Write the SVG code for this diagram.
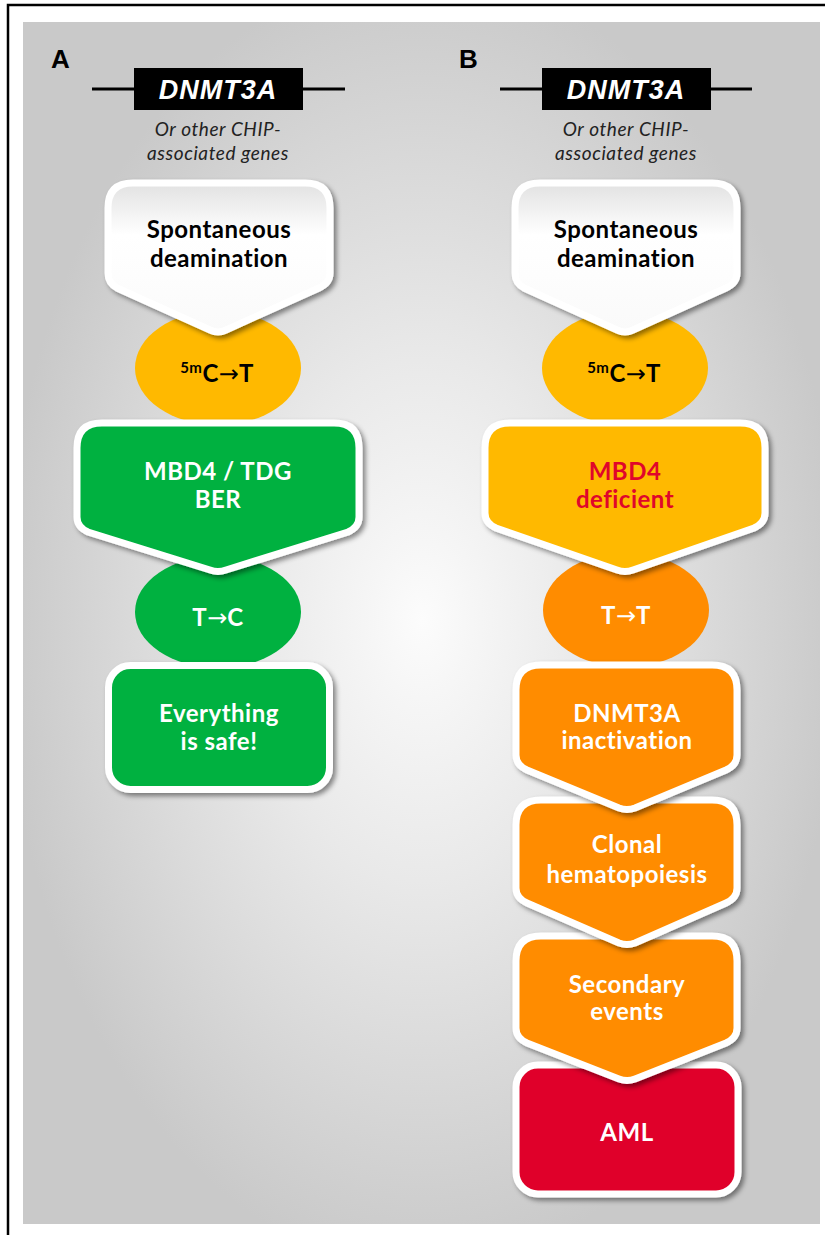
<svg xmlns="http://www.w3.org/2000/svg" width="825" height="1235" viewBox="0 0 825 1235">
<defs>
<radialGradient id="bg" gradientUnits="userSpaceOnUse" cx="422" cy="620" r="420" gradientTransform="translate(422 620) scale(1 1.55) translate(-422 -620)">
<stop offset="0" stop-color="#fcfcfc"/>
<stop offset="0.12" stop-color="#f6f6f6"/>
<stop offset="0.4" stop-color="#e9e9e9"/>
<stop offset="0.7" stop-color="#d9d9d9"/>
<stop offset="1" stop-color="#c9c9c9"/>
</radialGradient>
<linearGradient id="wg" x1="0" y1="0" x2="0" y2="1">
<stop offset="0" stop-color="#e2e2e2"/>
<stop offset="0.35" stop-color="#ffffff"/>
<stop offset="1" stop-color="#fafafa"/>
</linearGradient>
<filter id="sh" x="-10%" y="-10%" width="125%" height="125%">
<feDropShadow dx="3" dy="3" stdDeviation="2.5" flood-color="#000" flood-opacity="0.45"/>
</filter>
</defs>
<style>
.box{stroke:#fff;stroke-width:7;filter:url(#sh);}
.ell{stroke:none;}
.t{font-family:Lato,"Liberation Sans",sans-serif;font-weight:bold;font-size:24px;letter-spacing:0.5px;text-anchor:middle;}
.w{fill:#fff;}
.k{fill:#000;}
.r{fill:#e0062b;}
.sub{font-family:Lato,"Liberation Sans",sans-serif;font-style:italic;font-size:19px;letter-spacing:0.6px;text-anchor:middle;fill:#222;}
.gene{font-family:"Liberation Sans",Arial,sans-serif;font-weight:bold;font-style:italic;font-size:27px;letter-spacing:1px;text-anchor:middle;fill:#fff;}
.lab{font-family:"Liberation Sans",Arial,sans-serif;font-weight:bold;font-size:26px;fill:#000;}
.arr{font-family:"DejaVu Sans",sans-serif;font-weight:normal;font-size:24px;letter-spacing:0;}
.gl{stroke:#000;stroke-width:3;}
</style>
<rect x="8" y="5" width="840" height="1250" fill="#fff" stroke="#000" stroke-width="2.5"/>
<rect x="23" y="22" width="797" height="1202" fill="url(#bg)"/>

<g id="labels">
<text class="lab" x="51" y="68">A</text>
<text class="lab" x="459" y="68">B</text>
</g>

<g id="geneA">
<line class="gl" x1="92" y1="89" x2="345" y2="89"/>
<rect x="134" y="68" width="169" height="42" fill="#000"/>
<text class="gene" x="218" y="99">DNMT3A</text>
<text class="sub" x="218" y="136">Or other CHIP-</text>
<text class="sub" x="218" y="160">associated genes</text>
</g>
<g id="geneB">
<line class="gl" x1="500" y1="89" x2="752" y2="89"/>
<rect x="542" y="68" width="169" height="42" fill="#000"/>
<text class="gene" x="626" y="99">DNMT3A</text>
<text class="sub" x="626" y="136">Or other CHIP-</text>
<text class="sub" x="626" y="160">associated genes</text>
</g>

<g id="connectors"></g>

<!-- Panel A -->
<g id="A_mC">
<ellipse class="ell" cx="218" cy="368" rx="83" ry="57" fill="#ffb900"/>
<text class="t k" x="217" y="382"><tspan font-size="15" dy="-9">5m</tspan><tspan dy="9">C</tspan><tspan class="arr">→</tspan>T</text>
</g>
<g id="A_spont">
<path class="box" fill="url(#wg)" d="M133,183 H305 Q330,183 330,208 V273 Q330,283 319,288 L226,330 Q218,334 210,330 L117,288 Q108,283 108,273 V208 Q108,183 133,183 Z"/>
<text class="t k" x="219" y="238">Spontaneous</text>
<text class="t k" x="219" y="267">deamination</text>
</g>
<g id="A_TC">
<ellipse class="ell" cx="218" cy="612" rx="83" ry="56" fill="#00b140"/>
<text class="t w" x="218" y="626">T<tspan class="arr">→</tspan>C</text>
</g>
<g id="A_mbd4">
<path class="box" fill="#00b140" d="M102,423 H334 Q359,423 359,448 V517 Q359,527 348,532 L226,570 Q218,573 210,570 L88,532 Q77,527 77,517 V448 Q77,423 102,423 Z"/>
<text class="t w" x="218" y="480">MBD4 / TDG</text>
<text class="t w" x="218" y="508">BER</text>
</g>
<g id="A_safe">
<rect class="box" x="108.5" y="665.5" width="221" height="124" rx="22" fill="#00b140"/>
<text class="t w" x="219" y="722">Everything</text>
<text class="t w" x="219" y="750">is safe!</text>
</g>

<!-- Panel B -->
<g id="B_mC">
<ellipse class="ell" cx="625" cy="368" rx="83" ry="57" fill="#ffb900"/>
<text class="t k" x="624" y="382"><tspan font-size="15" dy="-9">5m</tspan><tspan dy="9">C</tspan><tspan class="arr">→</tspan>T</text>
</g>
<g id="B_spont">
<path class="box" fill="url(#wg)" d="M540,183 H712 Q737,183 737,208 V273 Q737,283 726,288 L633,330 Q625,334 617,330 L524,288 Q515,283 515,273 V208 Q515,183 540,183 Z"/>
<text class="t k" x="626" y="238">Spontaneous</text>
<text class="t k" x="626" y="267">deamination</text>
</g>
<g id="B_TT">
<ellipse class="ell" cx="626" cy="610" rx="83" ry="57" fill="#ff8c00"/>
<text class="t w" x="626" y="624">T<tspan class="arr">→</tspan>T</text>
</g>
<g id="B_mbd4">
<path class="box" fill="#ffb900" d="M510,423 H740 Q765,423 765,448 V513 Q765,523 754,528 L633,570 Q625,573 617,570 L496,528 Q485,523 485,513 V448 Q485,423 510,423 Z"/>
<text class="t r" x="625" y="480">MBD4</text>
<text class="t r" x="625" y="508">deficient</text>
</g>
<g id="B_aml">
<rect class="box" x="516" y="1065" width="222" height="129" rx="22" fill="#e0062b"/>
<text class="t w" x="627" y="1141">AML</text>
</g>
<g id="B_sec">
<path class="box" fill="#ff8c00" d="M541,936 H712 Q737,936 737,961 V1028 Q737,1038 726,1043 L635,1079 Q627,1082 619,1079 L527,1043 Q516,1038 516,1028 V961 Q516,936 541,936 Z"/>
<text class="t w" x="627" y="993">Secondary</text>
<text class="t w" x="627" y="1020">events</text>
</g>
<g id="B_clonal">
<path class="box" fill="#ff8c00" d="M541,800 H712 Q737,800 737,825 V888 Q737,898 726,903 L635,943 Q627,946 619,943 L527,903 Q516,898 516,888 V825 Q516,800 541,800 Z"/>
<text class="t w" x="627" y="853">Clonal</text>
<text class="t w" x="627" y="883">hematopoiesis</text>
</g>
<g id="B_dnmt">
<path class="box" fill="#ff8c00" d="M541,665 H712 Q737,665 737,690 V755 Q737,765 726,770 L635,808 Q627,811 619,808 L527,770 Q516,765 516,755 V690 Q516,665 541,665 Z"/>
<text class="t w" x="627" y="722">DNMT3A</text>
<text class="t w" x="627" y="749">inactivation</text>
</g>
</svg>
